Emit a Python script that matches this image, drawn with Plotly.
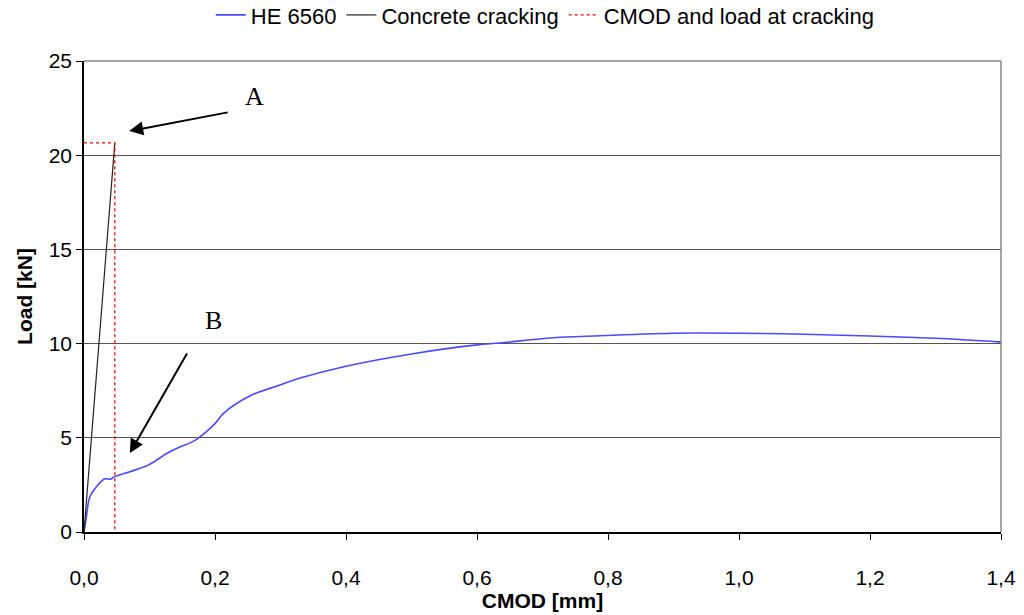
import plotly.graph_objects as go

# Measured load vs CMOD for specimen HE 6560
cmod_he = [0.0, 0.003, 0.009, 0.019, 0.032, 0.040, 0.047, 0.070, 0.098, 0.131, 0.172,
           0.187, 0.200, 0.213, 0.253, 0.299, 0.33, 0.40, 0.50, 0.60, 0.635, 0.711,
           0.788, 0.90, 0.94, 1.00, 1.10, 1.20, 1.30, 1.40]
load_he = [0.0, 0.64, 1.87, 2.40, 2.82, 2.80, 2.94, 3.20, 3.55, 4.26, 4.92,
           5.33, 5.75, 6.30, 7.22, 7.80, 8.17, 8.80, 9.45, 9.93, 10.03, 10.30,
           10.42, 10.55, 10.56, 10.55, 10.50, 10.40, 10.28, 10.08]

# Linear elastic branch up to cracking
cmod_crack_line = [0.0, 0.047]
load_crack_line = [0.0, 20.65]

# CMOD and load at cracking (guide lines)
cmod_guide = [0.0, 0.047, 0.047]
load_guide = [20.65, 20.65, 0.0]

x_ticks = [0.0, 0.2, 0.4, 0.6, 0.8, 1.0, 1.2, 1.4]
y_ticks = [0, 5, 10, 15, 20, 25]

fig = go.Figure()

fig.add_trace(go.Scatter(x=cmod_he, y=load_he, mode="lines", name="HE 6560",
                         line=dict(color="#4a4aff", width=1.6), line_shape="spline"))
fig.add_trace(go.Scatter(x=cmod_crack_line, y=load_crack_line, mode="lines",
                         name="Concrete cracking", line=dict(color="#222222", width=1.2)))
fig.add_trace(go.Scatter(x=cmod_guide, y=load_guide, mode="lines",
                         name="CMOD and load at cracking",
                         line=dict(color="#ff0000", width=1.3, dash="dot")))

fig.update_layout(
    width=1024, height=615,
    margin=dict(l=84, r=23, t=61, b=83, autoexpand=False),
    paper_bgcolor="white", plot_bgcolor="white",
    separators=",.",
    font=dict(family="Liberation Sans, Arial, sans-serif", color="black", size=21),
    legend=dict(orientation="h", x=0.503, xanchor="center", y=1.142, yref="paper",
                yanchor="top", font=dict(size=22), itemwidth=30, tracegroupgap=0,
                bgcolor="rgba(0,0,0,0)"),
    xaxis=dict(range=[0, 1.4], tickvals=x_ticks, tickformat=".1f", showgrid=False,
               zeroline=False, showline=True, linecolor="black", linewidth=1.5,
               ticks="outside", ticklen=6, tickcolor="black", ticklabelstandoff=20,
               tickfont=dict(size=21), automargin=False,
               title=dict(text="<b>CMOD [mm]</b>", font=dict(size=21), standoff=0)),
    yaxis=dict(range=[0, 25], tickvals=y_ticks, showgrid=True, gridcolor="#555555",
               gridwidth=1, zeroline=False, showline=True, linecolor="black", linewidth=1.5,
               ticks="outside", ticklen=6, tickcolor="black", tickfont=dict(size=21),
               automargin=False,
               title=dict(text="<b>Load [kN]</b>", font=dict(size=21), standoff=10)),
    showlegend=True,
)

# Grey plot border on top and right
fig.add_shape(type="line", xref="paper", yref="paper", x0=1, x1=1, y0=0, y1=1,
              line=dict(color="#888888", width=1.5))
fig.add_shape(type="line", xref="paper", yref="paper", x0=0, x1=1, y0=1, y1=1,
              line=dict(color="#888888", width=1.5))

# Arrow labels (tail offsets in pixels from the arrow head)
fig.add_annotation(x=0.0690, y=21.28, ax=100, ay=-19, axref="pixel", ayref="pixel",
                   text="", showarrow=True, arrowhead=2, arrowsize=1.4, arrowwidth=2,
                   arrowcolor="black")
fig.add_annotation(x=0.070, y=4.19, ax=58, ay=-101, axref="pixel", ayref="pixel",
                   text="", showarrow=True, arrowhead=2, arrowsize=1.4, arrowwidth=2,
                   arrowcolor="black")
fig.add_annotation(x=0.261, y=23.09, text="A", showarrow=False,
                   font=dict(family="Liberation Serif, Times New Roman, serif", size=26))
fig.add_annotation(x=0.197, y=11.25, text="B", showarrow=False,
                   font=dict(family="Liberation Serif, Times New Roman, serif", size=26))

fig.write_html("out.html")
